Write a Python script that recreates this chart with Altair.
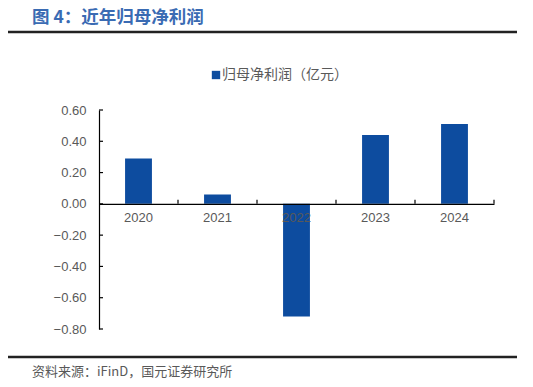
import altair as alt
import pandas as pd

years = ["2020", "2021", "2022", "2023", "2024"]
profit = [0.29, 0.06, -0.72, 0.44, 0.51]
y_ticks = [-0.8, -0.6, -0.4, -0.2, 0.0, 0.2, 0.4, 0.6]

title_text = "图 4：近年归母净利润"
legend_text = "归母净利润（亿元）"
source_text = "资料来源：iFinD，国元证券研究所"

BAR = "#0D4C9F"
GRAY = "#595959"
CJK = "Noto Sans CJK SC"
W, H = 395, 219
ZERO_Y = H * 0.6 / 1.4

df = pd.DataFrame({"year": years, "value": profit})
ticks_df = pd.DataFrame({"t": y_ticks})
one = pd.DataFrame({"a": [0]})

xscale = alt.Scale(domain=years, paddingInner=0, paddingOuter=0)
yscale = alt.Scale(domain=[-0.8, 0.6], nice=False, zero=False)

xaxis = alt.Axis(title=None, ticks=False, domain=True, domainColor="black",
                 domainWidth=1.2, labelAngle=0, labelPadding=8,
                 labelOverlap=False,
                 offset=-(H - ZERO_Y), labelFontSize=13, labelColor=GRAY,
                 labelFont="Liberation Sans", zindex=1)
yaxis = alt.Axis(title=None, values=y_ticks, format=".2f", ticks=False,
                 grid=False, domainColor="black", domainWidth=1.2,
                 labelOverlap=False, labelFlush=False,
                 labelPadding=13, labelFontSize=13, labelColor=GRAY,
                 labelFont="Liberation Sans")

bars = alt.Chart(df).mark_bar(width=alt.RelativeBandSize(0.34), color=BAR).encode(
    x=alt.X("year:N", scale=xscale, sort=years, axis=xaxis),
    y=alt.Y("value:Q", scale=yscale, axis=yaxis),
)

xticks = alt.Chart(df).mark_rule(color="black", strokeWidth=1.2).encode(
    x=alt.X("year:N", scale=xscale, sort=years, bandPosition=1, axis=xaxis),
    y=alt.value(ZERO_Y - 4), y2=alt.value(ZERO_Y),
)

yticks = alt.Chart(ticks_df).mark_rule(color="black", strokeWidth=1.2).encode(
    y=alt.Y("t:Q", scale=yscale, axis=yaxis),
    x=alt.value(0), x2=alt.value(4),
)

title = alt.Chart(one).mark_text(text=title_text, align="left", baseline="middle",
                                  font=CJK, fontSize=17.5, fontWeight="bold",
                                  color="#3A6BB3").encode(x=alt.value(-67), y=alt.value(-92))
top_line = alt.Chart(one).mark_rule(color="#222222", strokeWidth=2.5).encode(
    x=alt.value(-94), x2=alt.value(418), y=alt.value(-78))
bottom_line = alt.Chart(one).mark_rule(color="#222222", strokeWidth=2.5).encode(
    x=alt.value(-94), x2=alt.value(418), y=alt.value(247))
legend_sq = alt.Chart(one).mark_square(size=70, color=BAR, opacity=1).encode(
    x=alt.value(117), y=alt.value(-35))
legend_txt = alt.Chart(one).mark_text(text=legend_text, align="left", baseline="middle",
                                       font=CJK, fontSize=14, color=GRAY).encode(
    x=alt.value(123), y=alt.value(-35))
source = alt.Chart(one).mark_text(text=source_text, align="left", baseline="middle",
                                   font=CJK, fontSize=13, color=GRAY).encode(
    x=alt.value(-67), y=alt.value(262))

chart = alt.layer(bars, xticks, yticks, title, top_line, bottom_line,
                  legend_sq, legend_txt, source).properties(
    width=W, height=H,
    autosize=alt.AutoSizeParams(type="none"),
    padding={"left": 91, "top": 102, "right": 31, "bottom": 50},
).configure_view(stroke=None)

chart.save("out.html", embed_options={"renderer": "svg", "actions": False})
